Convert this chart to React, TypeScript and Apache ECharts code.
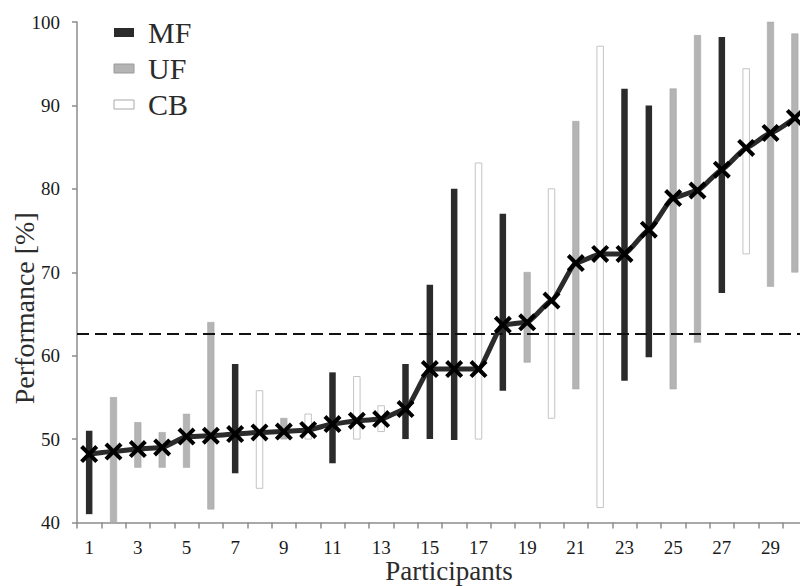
import React, { useEffect, useRef } from "react";
import * as echarts from "echarts";

const participants = Array.from({ length: 30 }, (_, i) => String(i + 1));
const types = ["MF","UF","UF","UF","UF","UF","MF","CB","UF","CB","MF","CB","CB","MF","MF","MF","CB","MF","UF","CB","UF","CB","MF","MF","UF","UF","MF","CB","UF","UF"];
const lows = [41,40,46.6,46.6,46.6,41.6,45.9,44.1,50,50,47.1,50,50.9,50,50,49.9,50,55.8,59.2,52.5,56,41.8,57,59.8,56,61.6,67.5,72.2,68.3,70];
const highs = [51,55,52,50.8,53,64,59,55.8,52.5,53,58,57.5,54,59,68.5,80,83.1,77,70,80,88.1,97.1,92,90,92,98.4,98.2,94.4,100,98.6];
const means = [48.2,48.5,48.8,49.0,50.3,50.4,50.6,50.8,50.9,51.1,51.8,52.2,52.4,53.6,58.4,58.4,58.4,63.7,64.0,66.6,71.1,72.2,72.2,75.1,78.9,79.8,82.3,84.9,86.7,88.5];
const threshold = 62.6;
const yTicks = { min: 40, max: 100, interval: 10 };
const groups = ["MF", "UF", "CB"];

const FONT = "'Liberation Serif', 'DejaVu Serif', serif";
const styles: Record<string, any> = {
  MF: { fill: "#2b2b2b", stroke: "#2b2b2b", lineWidth: 0 },
  UF: { fill: "#b4b4b4", stroke: "#a0a0a0", lineWidth: 0.5 },
  CB: { fill: "#ffffff", stroke: "#c4c4c4", lineWidth: 1 },
};

function rangeSeries(name: string) {
  const data: any[] = [];
  types.forEach((t, i) => {
    if (t === name) data.push([i, lows[i], highs[i]]);
  });
  const st = styles[name];
  return {
    type: "custom",
    name,
    data,
    encode: { x: 0, y: [1, 2] },
    z: 2,
    renderItem: (params: any, api: any) => {
      const idx = api.value(0);
      const lo = api.coord([idx, api.value(1)]);
      const hi = api.coord([idx, api.value(2)]);
      const w = 6.5;
      return {
        type: "rect",
        shape: { x: lo[0] - w / 2, y: hi[1], width: w, height: lo[1] - hi[1] },
        style: { fill: st.fill, stroke: st.lineWidth ? st.stroke : null, lineWidth: st.lineWidth },
      };
    },
  };
}

function legendGraphics() {
  const out: any[] = [];
  const legendStroke: Record<string, any> = { MF: null, UF: "#9a9a9a", CB: "#a8a8a8" };
  groups.forEach((g, i) => {
    const cy = 32.5 + i * 36;
    out.push({
      type: "rect",
      z: 10,
      shape: { x: 114, y: cy - 4.5, width: 20, height: 9 },
      style: { fill: styles[g].fill, stroke: legendStroke[g], lineWidth: legendStroke[g] ? 1 : 0 },
    });
    out.push({
      type: "text",
      z: 10,
      x: 148,
      y: cy,
      style: { text: g, fontFamily: FONT, fontSize: 30, fill: "#2b2b2b", verticalAlign: "middle", align: "left" },
    });
  });
  return out;
}

const X_PATH = "path://M0,3.2L3.2,0L10,6.8L16.8,0L20,3.2L13.2,10L20,16.8L16.8,20L10,13.2L3.2,20L0,16.8L6.8,10Z";

export default function App() {
  const ref = useRef<HTMLDivElement>(null);
  useEffect(() => {
    if (!ref.current) return;
    const chart = echarts.init(ref.current, undefined, { renderer: "svg" });
    chart.setOption({
      animation: false,
      backgroundColor: "#ffffff",
      grid: { left: 77, right: -7, top: 22, bottom: 63.5, containLabel: false, outerBoundsMode: "none" },
      graphic: legendGraphics(),
      xAxis: {
        type: "category",
        data: participants,
        boundaryGap: true,
        name: "Participants",
        nameLocation: "middle",
        nameMoveOverlap: false,
        nameGap: 35,
        nameTextStyle: { fontFamily: FONT, fontSize: 27, lineHeight: 27, color: "#2b2b2b", padding: [0, 0, 0, 14] },
        axisLine: { lineStyle: { color: "#8c8c8c", width: 1.5 } },
        axisTick: { show: true, interval: 0, length: 6, lineStyle: { color: "#8c8c8c", width: 1.5 } },
        axisLabel: { interval: 1, fontFamily: FONT, fontSize: 19, color: "#1a1a1a", margin: 15 },
        splitLine: { show: false },
      },
      yAxis: {
        type: "value",
        min: yTicks.min,
        max: yTicks.max,
        interval: yTicks.interval,
        name: "Performance [%]",
        nameLocation: "middle",
        nameMoveOverlap: false,
        nameRotate: 90,
        nameGap: 39,
        nameTextStyle: { fontFamily: FONT, fontSize: 28, color: "#2b2b2b", padding: [0, 72, 0, 0] },
        axisLine: { show: true, lineStyle: { color: "#8c8c8c", width: 1.5 } },
        axisTick: { show: true, length: 5, lineStyle: { color: "#8c8c8c", width: 1.5 } },
        axisLabel: { fontFamily: FONT, fontSize: 19, color: "#1a1a1a", margin: 17 },
        splitLine: { show: false },
      },
      series: [
        ...groups.map(rangeSeries),
        {
          type: "line",
          name: "mean",
          data: means,
          smooth: 0.15,
          smoothMonotone: "x",
          showAllSymbol: true,
          z: 5,
          symbol: X_PATH,
          symbolSize: 18,
          lineStyle: { color: "#2b2b2b", width: 5 },
          itemStyle: { color: "#000000" },
          markLine: {
            silent: true,
            symbol: "none",
            label: { show: false },
            lineStyle: { color: "#111", width: 2, type: [12, 6] },
            data: [{ yAxis: threshold }],
          },
        },
      ],
    });
    return () => chart.dispose();
  }, []);
  return <div ref={ref} style={{ position: "fixed", left: 0, top: 0, width: 800, height: 586 }} />;
}
